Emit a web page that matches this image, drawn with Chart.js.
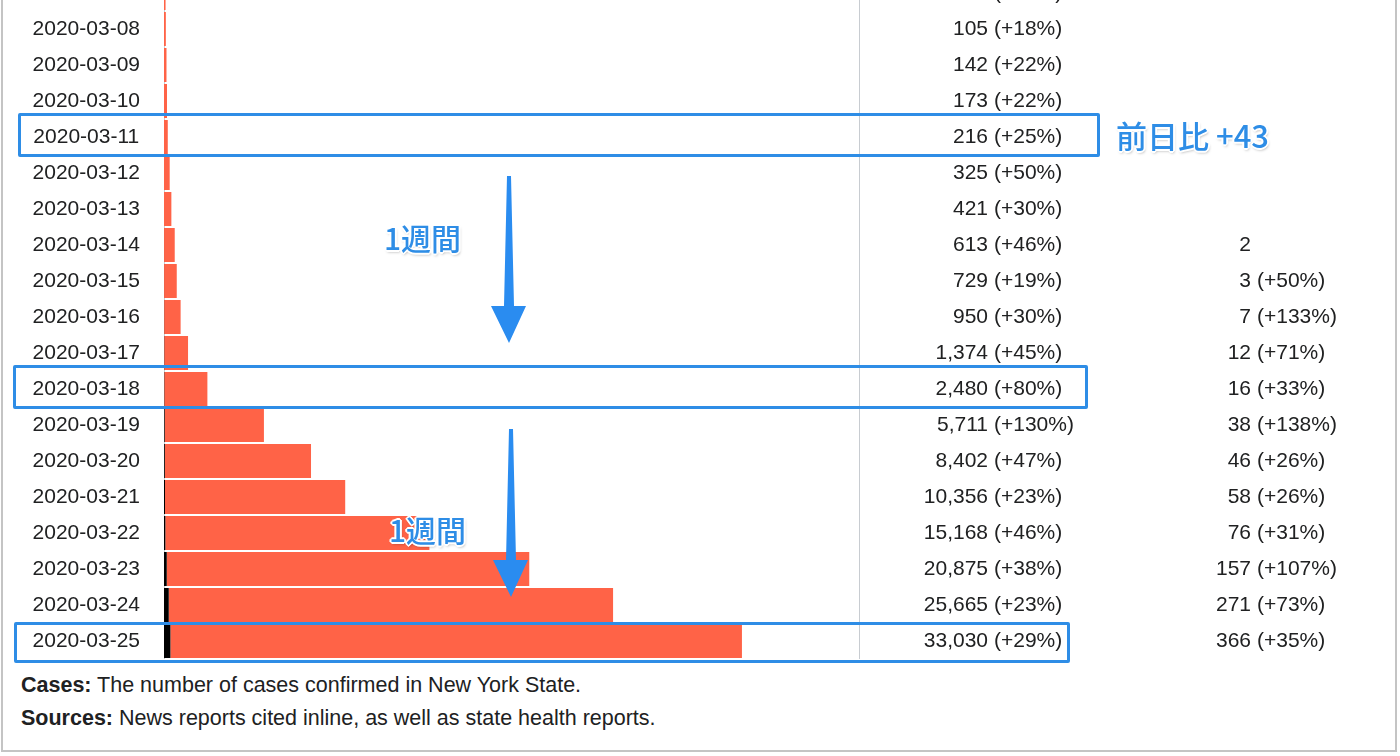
<!DOCTYPE html>
<html>
<head>
<meta charset="utf-8">
<script src="https://cdn.jsdelivr.net/npm/chart.js@4.4.1/dist/chart.umd.min.js"></script>
<style>
    html, body { margin: 0; padding: 0; background: #fff; }
    body { width: 1400px; height: 756px; position: relative; overflow: hidden; font-family: "Liberation Sans", Arial, sans-serif; color: #202122; }
    #frame { position: absolute; left: 1px; top: -10px; width: 1392px; height: 760px; border: 2px solid #c4c4c4; border-top: none; }
    #wrap { position: absolute; left: 0; top: -25px; width: 1400px; height: 684px; }
    canvas { display: block; }
    .note { position: absolute; left: 21px; font-size: 21.5px; line-height: 24px; }
    .box { position: absolute; border: 3px solid #2e8de6; border-radius: 2px; box-sizing: border-box; }
    .lbl { position: absolute; font-family: "Noto Sans CJK JP", sans-serif; font-weight: 500; color: #2e8de6; line-height: 1;
           text-shadow: -2px 0 #fff, 2px 0 #fff, 0 -2px #fff, 0 2px #fff, -1px -1px #fff, 1px 1px #fff, -1px 1px #fff, 1px -1px #fff, 1px 2px 3px rgba(0,0,0,0.35); }
    svg { position: absolute; left: 0; top: 0; }
</style>
</head>
<body>
<div id="frame"></div>
<div id="wrap"><canvas id="chart" width="1400" height="684"></canvas></div>

<div class="note" style="top:673px"><b>Cases:</b> The number of cases confirmed in New York State.</div>
<div class="note" style="top:706px"><b>Sources:</b> News reports cited inline, as well as state health reports.</div>

<div class="box" style="left:18px; top:113px; width:1082px; height:44px"></div>
<div class="box" style="left:13px; top:365px; width:1075px; height:44px"></div>
<div class="box" style="left:14px; top:622px; width:1056px; height:41px"></div>

<div class="lbl" style="left:1116px; top:119px; font-size:31px">前日比 +43</div>
<div class="lbl" style="left:384px; top:222px; font-size:30px">1週間</div>
<div class="lbl" style="left:389px; top:514px; font-size:30px">1週間</div>

<svg width="1400" height="756">
    <polygon points="507,176 511,176 514,306 526,306 509,343 491,306 504,306" fill="#2a8cf0"/>
    <polygon points="509,429 513,429 516,560 528,560 511,597 493,560 506,560" fill="#2a8cf0"/>
</svg>

<script>
const dates = [
    '2020-03-07', '2020-03-08', '2020-03-09', '2020-03-10', '2020-03-11', '2020-03-12', '2020-03-13',
    '2020-03-14', '2020-03-15', '2020-03-16', '2020-03-17', '2020-03-18', '2020-03-19', '2020-03-20',
    '2020-03-21', '2020-03-22', '2020-03-23', '2020-03-24', '2020-03-25'
];
const cases = [89, 105, 142, 173, 216, 325, 421, 613, 729, 950, 1374, 2480, 5711, 8402, 10356, 15168, 20875, 25665, 33030];
const casesPct = ['+17%', '+18%', '+22%', '+22%', '+25%', '+50%', '+30%', '+46%', '+19%', '+30%',
    '+45%', '+80%', '+130%', '+47%', '+23%', '+46%', '+38%', '+23%', '+29%'];
const deaths = [0, 0, 0, 0, 0, 0, 0, 2, 3, 7, 12, 16, 38, 46, 58, 76, 157, 271, 366];
const deathsPct = [null, null, null, null, null, null, null, null, '+50%', '+133%',
    '+71%', '+33%', '+138%', '+26%', '+26%', '+31%', '+107%', '+73%', '+35%'];

const FONT = '21px "Liberation Sans", Arial, sans-serif';
const fmt = n => n.toLocaleString('en-US');

// number columns to the right of the bars
const columnsPlugin = {
    id: 'columns',
    afterDraw(chart) {
        const ctx = chart.ctx;
        const y = chart.scales.y;
        const area = chart.chartArea;
        ctx.save();
        ctx.strokeStyle = '#c8ccd1';
        ctx.lineWidth = 1;
        ctx.beginPath();
        ctx.moveTo(area.right + 0.5, area.top);
        ctx.lineTo(area.right + 0.5, area.bottom);
        ctx.stroke();

        ctx.font = FONT;
        ctx.fillStyle = '#202122';
        ctx.textBaseline = 'middle';
        dates.forEach((d, i) => {
            const py = y.getPixelForValue(i);
            ctx.textAlign = 'right';
            ctx.fillText(fmt(cases[i]), 988, py);
            ctx.textAlign = 'left';
            ctx.fillText('(' + casesPct[i] + ')', 994, py);
            if (deaths[i] > 0) {
                ctx.textAlign = 'right';
                ctx.fillText(fmt(deaths[i]), 1251, py);
                if (deathsPct[i]) {
                    ctx.textAlign = 'left';
                    ctx.fillText('(' + deathsPct[i] + ')', 1257, py);
                }
            }
        });
        ctx.restore();
    }
};

new Chart(document.getElementById('chart'), {
    type: 'bar',
    data: {
        labels: dates,
        datasets: [
            {
                label: 'Deaths',
                data: deaths,
                backgroundColor: '#000000',
                categoryPercentage: 1,
                barPercentage: 34 / 36
            },
            {
                label: 'Cases',
                data: cases.map((c, i) => c - deaths[i]),
                backgroundColor: '#ff6347',
                categoryPercentage: 1,
                barPercentage: 34 / 36
            }
        ]
    },
    options: {
        indexAxis: 'y',
        responsive: false,
        animation: false,
        layout: { padding: { left: 0, right: 1400 - 859, top: 0, bottom: 0 } },
        plugins: { legend: { display: false }, tooltip: { enabled: false } },
        scales: {
            x: { stacked: true, display: false, min: 0, max: 39720 },
            y: {
                stacked: true,
                afterFit(scale) {
                    scale.width = 164;
                    scale.paddingTop = 0;
                    scale.paddingBottom = 0;
                },
                grid: { display: false, drawTicks: false },
                border: { display: true, color: '#c8ccd1', width: 1 },
                ticks: {
                    crossAlign: 'center',
                    padding: 24,
                    color: '#202122',
                    font: { family: '"Liberation Sans", Arial, sans-serif', size: 21 }
                }
            }
        }
    },
    plugins: [columnsPlugin]
});
</script>
</body>
</html>
